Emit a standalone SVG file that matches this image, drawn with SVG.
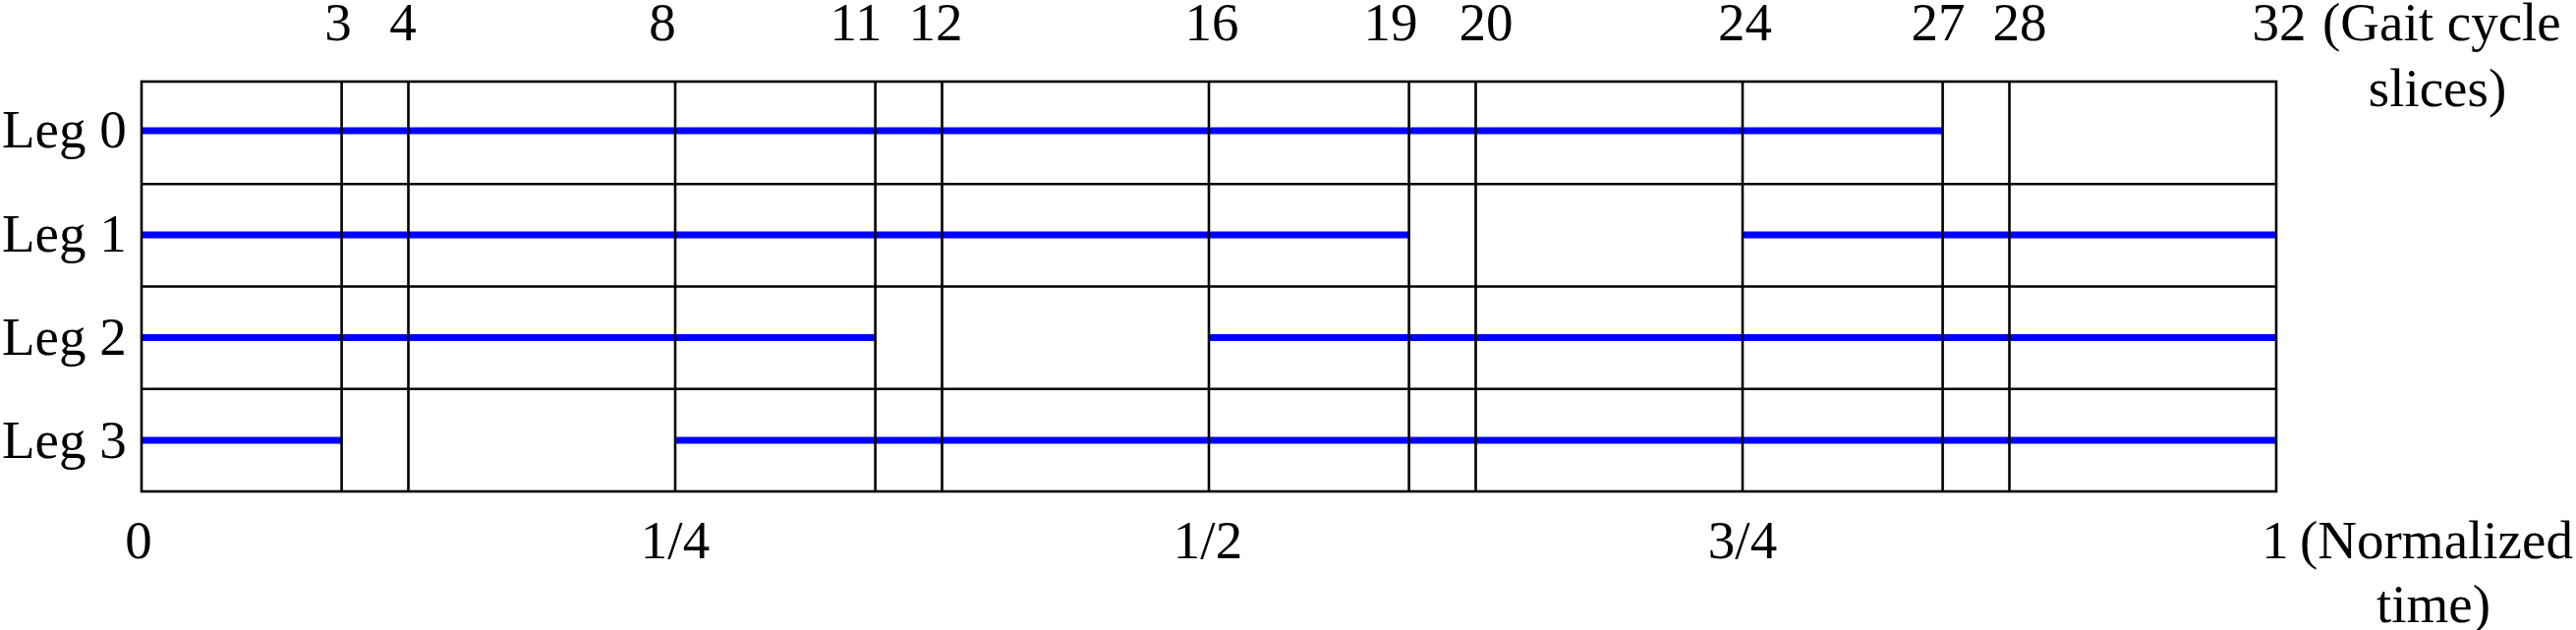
<svg xmlns="http://www.w3.org/2000/svg" width="2621" height="641" viewBox="0 0 2621 641">
<style>
text{font-family:"Liberation Serif","Times New Roman",serif;font-size:55px;fill:#000}
.c{text-anchor:middle}
.g{stroke:#000;stroke-width:2.6;fill:none}
.b{stroke:#0000ff;stroke-width:7;fill:none}
</style>
<rect width="2621" height="641" fill="#fff"/>
<g id="phases">
<line class="b" x1="144" y1="133" x2="1976.6" y2="133"/>
<line class="b" x1="144" y1="239" x2="1433.6" y2="239"/>
<line class="b" x1="1773" y1="239" x2="2316" y2="239"/>
<line class="b" x1="144" y1="343.5" x2="890.6" y2="343.5"/>
<line class="b" x1="1230" y1="343.5" x2="2316" y2="343.5"/>
<line class="b" x1="144" y1="448" x2="347.6" y2="448"/>
<line class="b" x1="687" y1="448" x2="2316" y2="448"/>
</g>
<g id="grid">
<rect class="g" x="144" y="83" width="2172" height="417"/>
<line class="g" x1="144" y1="187.25" x2="2316" y2="187.25"/>
<line class="g" x1="144" y1="291.5" x2="2316" y2="291.5"/>
<line class="g" x1="144" y1="395.75" x2="2316" y2="395.75"/>
<line class="g" x1="347.6" y1="83" x2="347.6" y2="500"/>
<line class="g" x1="415.5" y1="83" x2="415.5" y2="500"/>
<line class="g" x1="687" y1="83" x2="687" y2="500"/>
<line class="g" x1="890.6" y1="83" x2="890.6" y2="500"/>
<line class="g" x1="958.5" y1="83" x2="958.5" y2="500"/>
<line class="g" x1="1230" y1="83" x2="1230" y2="500"/>
<line class="g" x1="1433.6" y1="83" x2="1433.6" y2="500"/>
<line class="g" x1="1501.5" y1="83" x2="1501.5" y2="500"/>
<line class="g" x1="1773" y1="83" x2="1773" y2="500"/>
<line class="g" x1="1976.6" y1="83" x2="1976.6" y2="500"/>
<line class="g" x1="2044.5" y1="83" x2="2044.5" y2="500"/>
</g>
<g id="leg-labels">
<text x="2" y="150">Leg 0</text>
<text x="2" y="256">Leg 1</text>
<text x="2" y="360.5">Leg 2</text>
<text x="2" y="466">Leg 3</text>
</g>
<g id="slice-labels">
<text class="c" x="344" y="41">3</text>
<text class="c" x="410" y="41">4</text>
<text class="c" x="674" y="41">8</text>
<text class="c" x="871" y="41">11</text>
<text class="c" x="952" y="41">12</text>
<text class="c" x="1233" y="41">16</text>
<text class="c" x="1415" y="41">19</text>
<text class="c" x="1512" y="41">20</text>
<text class="c" x="1775.5" y="41">24</text>
<text class="c" x="1972" y="41">27</text>
<text class="c" x="2055" y="41">28</text>
<text class="c" x="2319" y="41">32</text>
<text x="2363" y="41">(Gait cycle</text>
<text class="c" x="2480" y="108">slices)</text>
</g>
<g id="time-labels">
<text class="c" x="141" y="568">0</text>
<text class="c" x="687" y="568">1/4</text>
<text class="c" x="1229" y="568">1/2</text>
<text class="c" x="1773" y="568">3/4</text>
<text class="c" x="2315" y="568">1</text>
<text x="2340" y="568">(Normalized</text>
<text class="c" x="2476" y="633">time)</text>
</g>
</svg>
